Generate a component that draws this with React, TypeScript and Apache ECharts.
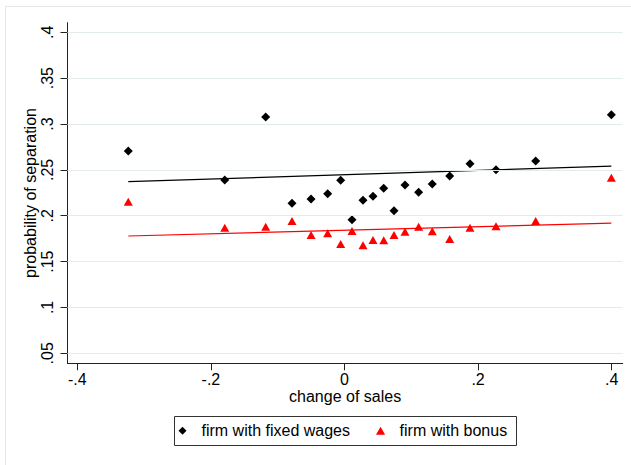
import React, { useEffect, useRef } from "react";
import * as echarts from "echarts";

const changeOfSales = [
  -0.3237, -0.1793, -0.118, -0.0786, -0.0501, -0.0252, -0.0057, 0.0112, 0.0277, 0.0427,
  0.0587, 0.0741, 0.0906, 0.111, 0.1314, 0.1575, 0.1879, 0.2268, 0.2862, 0.3995,
];
const fixedWages = [
  0.2706, 0.239, 0.3076, 0.2135, 0.2182, 0.224, 0.2386, 0.1957, 0.2168, 0.2212,
  0.2299, 0.2055, 0.2335, 0.2255, 0.2346, 0.2433, 0.2567, 0.2502, 0.2597, 0.3102,
];
const bonus = [
  0.2153, 0.187, 0.188, 0.1942, 0.179, 0.1808, 0.1692, 0.1833, 0.1677, 0.1735,
  0.1732, 0.179, 0.1826, 0.188, 0.183, 0.1746, 0.187, 0.1885, 0.1942, 0.2415,
];
const fitFixedX = [-0.3237, 0.3995];
const fitFixedY = [0.2371, 0.2542];
const fitBonusX = [-0.3237, 0.3995];
const fitBonusY = [0.1779, 0.192];
const xTicks = [-0.4, -0.2, 0, 0.2, 0.4];
const yTicks = [0.05, 0.1, 0.15, 0.2, 0.25, 0.3, 0.35, 0.4];
const seriesNames = ["firm with fixed wages", "firm with bonus"];

const FONT = "'Liberation Sans', Arial, sans-serif";

function fmt(v: number): string {
  if (Math.abs(v) < 1e-9) return "0";
  const s = String(Math.round(v * 100) / 100);
  return s.replace("0.", ".");
}

export default function App() {
  const ref = useRef<HTMLDivElement>(null);
  useEffect(() => {
    if (!ref.current) return;
    const chart = echarts.init(ref.current, undefined, { renderer: "svg" });
    const fixedData = changeOfSales.map((x, i) => [x, fixedWages[i]]);
    const bonusData = changeOfSales.map((x, i) => [x, bonus[i]]);
    chart.setOption({
      animation: false,
      backgroundColor: "#ffffff",
      textStyle: { fontFamily: FONT },
      grid: { left: 67.5, right: 8.3, top: 22.7, bottom: 101.7, containLabel: false },
      xAxis: {
        type: "value",
        min: -0.4147,
        max: 0.4165,
        name: "change of sales",
        nameLocation: "middle",
        nameGap: 25.5,
        nameMoveOverlap: false,
        nameTextStyle: { fontSize: 16, color: "#000", fontFamily: FONT },
        axisLine: { show: true, onZero: false, lineStyle: { color: "#222", width: 1 } },
        axisTick: { show: true, length: 7, customValues: xTicks, lineStyle: { color: "#222" } },
        axisLabel: {
          show: true,
          customValues: xTicks,
          margin: 8,
          fontSize: 16,
          color: "#000",
          fontFamily: FONT,
          formatter: (v: number) => fmt(v),
        },
        splitLine: { show: false },
      },
      yAxis: {
        type: "value",
        min: 0.0391,
        max: 0.4105,
        name: "probability of separation",
        nameLocation: "middle",
        nameGap: 29,
        nameMoveOverlap: false,
        nameTextStyle: { fontSize: 16, color: "#000", fontFamily: FONT },
        axisLine: { show: true, onZero: false, lineStyle: { color: "#222", width: 1 } },
        axisTick: { show: true, length: 7, customValues: yTicks, lineStyle: { color: "#222" } },
        axisLabel: {
          show: true,
          customValues: yTicks,
          rotate: 90,
          margin: 12,
          fontSize: 16,
          color: "#000",
          fontFamily: FONT,
          formatter: (v: number) => fmt(v),
        },
        splitLine: { show: false },
      },
      legend: {
        left: 178.5,
        top: 422.8,
        padding: 0,
        itemWidth: 28,
        itemHeight: 8,
        itemGap: 26,
        selectedMode: false,
        textStyle: { fontSize: 16, color: "#000", fontFamily: FONT },
        data: [
          { name: seriesNames[0], icon: "path://M4,0L8,4L4,8L0,4Z" },
          { name: seriesNames[1], icon: "path://M4,0L8,7L0,7Z" },
        ],
      },
      graphic: [
        {
          type: "rect",
          shape: { x: 5.5, y: 6.5, width: 700, height: 600 },
          style: { fill: "none", stroke: "#e6e6e6", lineWidth: 1 },
          silent: true,
          z: -10,
        },
        {
          type: "rect",
          shape: { x: 174.5, y: 416.5, width: 342, height: 29 },
          style: { fill: "none", stroke: "#333", lineWidth: 1 },
          silent: true,
        },
      ],
      series: [
        {
          name: "gridlines",
          type: "line",
          data: [],
          z: 1,
          silent: true,
          markLine: {
            silent: true,
            symbol: ["none", "none"],
            label: { show: false },
            lineStyle: { type: "solid", color: "#e3ebed", width: 1.2 },
            data: yTicks.map((v) => ({ yAxis: v })),
          },
        },
        {
          name: "fit fixed",
          type: "line",
          data: fitFixedX.map((x, i) => [x, fitFixedY[i]]),
          showSymbol: false,
          symbol: "none",
          lineStyle: { color: "#000", width: 1.2 },
          itemStyle: { color: "#000" },
          z: 2,
          silent: true,
        },
        {
          name: "fit bonus",
          type: "line",
          data: fitBonusX.map((x, i) => [x, fitBonusY[i]]),
          showSymbol: false,
          symbol: "none",
          lineStyle: { color: "#ff0000", width: 1.2 },
          itemStyle: { color: "#ff0000" },
          z: 2,
          silent: true,
        },
        {
          name: seriesNames[0],
          type: "scatter",
          symbol: "diamond",
          symbolSize: 9,
          itemStyle: { color: "#000", opacity: 1 },
          data: fixedData,
          z: 3,
        },
        {
          name: seriesNames[1],
          type: "scatter",
          symbol: "triangle",
          symbolSize: [9, 8],
          itemStyle: { color: "#ff0000", opacity: 1 },
          data: bonusData,
          z: 3,
        },
      ],
    });
    return () => chart.dispose();
  }, []);
  return (
    <div
      ref={ref}
      style={{ position: "fixed", left: 0, top: 0, width: 631, height: 465, background: "#fff" }}
    />
  );
}
